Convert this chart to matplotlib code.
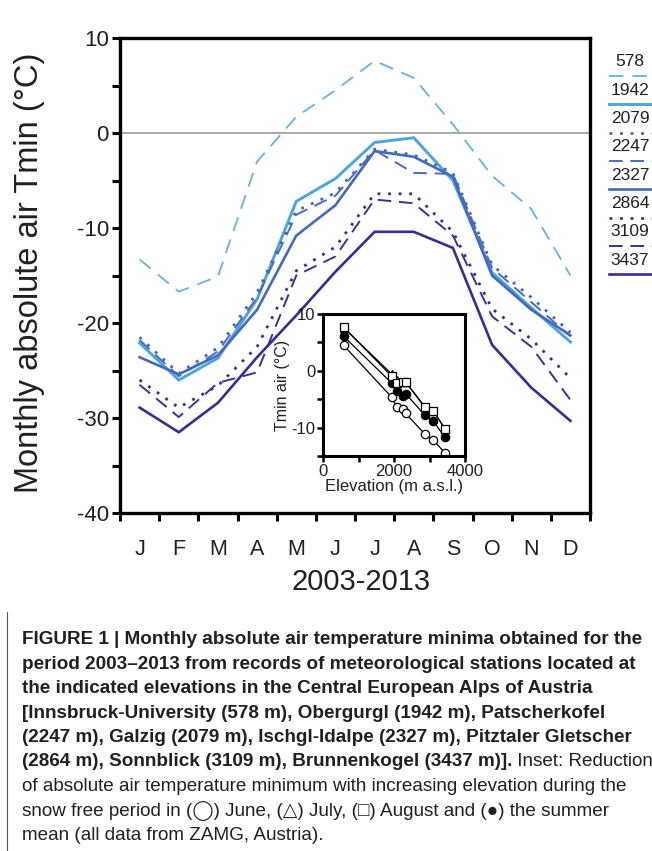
import matplotlib
matplotlib.use("Agg")
import matplotlib.pyplot as plt
from matplotlib.lines import Line2D
import numpy as np

plt.rcParams["font.family"] = ["Liberation Sans", "DejaVu Sans"]

# ---- data ----
MONTHS = ["J", "F", "M", "A", "M", "J", "J", "A", "S", "O", "N", "D"]
ELEV = [578, 1942, 2079, 2247, 2327, 2864, 3109, 3437]

t578 = [-13.3, -16.7, -15.1, -3.0, 1.7, 4.5, 7.6, 5.8, 0.9, -4.5, -8.0, -15.0]
t1942 = [-22.1, -26.0, -23.7, -17.5, -7.2, -4.8, -1.0, -0.5, -5.0, -14.7, -18.4, -22.0]
t2079 = [-21.5, -25.3, -22.6, -16.8, -8.2, -6.3, -1.7, -2.3, -4.2, -13.9, -17.3, -21.0]
t2247 = [-21.8, -25.6, -23.0, -17.3, -8.6, -6.6, -1.8, -4.2, -4.3, -14.2, -17.8, -21.4]
t2327 = [-23.6, -25.4, -23.4, -18.6, -10.8, -7.6, -1.9, -2.5, -4.6, -15.0, -18.6, -21.3]
t2864 = [-26.0, -28.9, -26.6, -22.5, -14.5, -12.0, -6.4, -6.4, -10.4, -18.5, -21.7, -25.8]
t3109 = [-26.5, -29.9, -26.3, -25.2, -15.0, -13.0, -7.0, -7.4, -10.8, -19.3, -22.5, -28.1]
t3437 = [-28.9, -31.5, -28.4, -23.6, -19.2, -14.6, -10.4, -10.4, -12.1, -22.3, -26.8, -30.3]

SERIES = [t578, t1942, t2079, t2247, t2327, t2864, t3109, t3437]

# inset values
in_june = [4.5, -4.7, -6.4, -6.8, -7.5, -11.1, -12.2, -14.5]
in_july = [7.6, -0.6, -1.7, -1.9, -1.9, -6.4, -7.0, -10.3]
in_aug = [7.7, -1.0, -2.2, -2.0, -2.0, -6.3, -7.1, -10.2]
in_mean = [6.1, -2.2, -3.5, -4.4, -4.0, -7.8, -8.9, -11.7]

# colour / line style per station
STYLES = [
    dict(color="#62b3e4", ls=(0, (8, 5)), lw=1.3),
    dict(color="#4aa6dd", ls="-", lw=2.1),
    dict(color="#3f68c0", ls=(0, (1, 2.8)), lw=2.0),
    dict(color="#4a6cc0", ls=(0, (7, 4)), lw=1.4),
    dict(color="#4569bd", ls="-", lw=1.9),
    dict(color="#3c2c98", ls=(0, (1, 2.8)), lw=2.0),
    dict(color="#3e2f98", ls=(0, (7, 4)), lw=1.4),
    dict(color="#3a2b93", ls="-", lw=1.9),
]

W, H = 652, 851
fig = plt.figure(figsize=(W / 100, H / 100), dpi=100)
TXT = "#231f20"


def fx(px):
    return px / W


def fy(py):
    return 1 - py / H


# ---- main axes ----
ax = fig.add_axes([fx(120), fy(513), fx(590) - fx(120), fy(38) - fy(513)])
x = np.arange(12) + 0.5
ax.axhline(0, color="#9a9a9a", lw=1.2, zorder=1)
for vals, st in zip(SERIES, STYLES):
    ax.plot(x, vals, color=st["color"], linestyle=st["ls"], lw=st["lw"],
            solid_joinstyle="miter", zorder=2)

ax.set_xlim(0, 12)
ax.set_ylim(-40, 10)
ax.set_xticks(np.arange(13))
ax.set_xticklabels([])
ax.set_xticks(x, minor=True)
ax.set_xticklabels(MONTHS, minor=True)
ax.set_yticks(np.arange(-40, 11, 10))
ax.set_yticklabels([str(v) for v in range(-40, 11, 10)])
ax.set_yticks(np.arange(-35, 10, 10), minor=True)
ax.tick_params(axis="both", which="major", direction="out", length=6,
               width=2.2, labelsize=16, colors="black", labelcolor=TXT)
ax.tick_params(axis="y", which="major", pad=2)
ax.tick_params(axis="y", which="minor", direction="out", length=6, width=2.2)
ax.tick_params(axis="x", which="minor", length=0, labelsize=15.5, pad=19,
               labelcolor=TXT)
for s in ax.spines.values():
    s.set_linewidth(2.4)

fig.text(fx(30), fy(273), "Monthly absolute air Tmin (°C)", rotation=90,
         ha="center", va="center", fontsize=23.5, color=TXT)
fig.text(fx(361), fy(582), "2003-2013", ha="center", va="center",
         fontsize=21, color=TXT)

# ---- legend on the right ----
for i, (lab, st) in enumerate(zip(ELEV, STYLES)):
    ty = 62 + 28.3 * i
    fig.text(fx(630), fy(ty), str(lab), ha="center", va="center",
             fontsize=12.5, color=TXT)
    fig.add_artist(Line2D([fx(609), fx(660)], [fy(ty + 14)] * 2,
                          transform=fig.transFigure, color=st["color"],
                          linestyle=st["ls"], lw=st["lw"]))

# ---- inset: Tmin vs elevation (Jun, Jul, Aug, summer mean) ----
axi = fig.add_axes([fx(323), fy(456), fx(465) - fx(323), fy(314) - fy(456)])
mk = dict(color="black", lw=0.9, markersize=6, markeredgewidth=0.9)
axi.plot(ELEV, in_june, marker="o", mfc="white", **mk)
axi.plot(ELEV, in_mean, marker="o", mfc="black", **mk)
axi.plot(ELEV, in_july, marker="^", mfc="white", **mk)
axi.plot(ELEV, in_aug, marker="s", mfc="white", **mk)
axi.set_xlim(0, 4000)
axi.set_ylim(-15, 10)
axi.set_xticks([0, 1000, 2000, 3000, 4000])
axi.set_xticklabels(["0", "", "2000", "", "4000"])
axi.set_yticks([-15, -10, -5, 0, 5, 10])
axi.set_yticklabels(["", "-10", "", "0", "", "10"])
axi.tick_params(direction="out", length=4, width=1.8, labelsize=12,
                pad=1.5, labelcolor=TXT)
for s in axi.spines.values():
    s.set_linewidth(2.2)
axi.set_xlabel("Elevation (m a.s.l.)", fontsize=12, labelpad=0, color=TXT)
axi.set_ylabel("Tmin air (°C)", fontsize=11.5, labelpad=1, color=TXT)

# ---- caption ----
CAPFAM = ["Liberation Sans", "DejaVu Sans"]

bold_lines = [
    "FIGURE 1 | Monthly absolute air temperature minima obtained for the",
    "period 2003\u20132013 from records of meteorological stations located at",
    "the indicated elevations in the Central European Alps of Austria",
    "[Innsbruck-University (578 m), Obergurgl (1942 m), Patscherkofel",
    "(2247 m), Galzig (2079 m), Ischgl-Idalpe (2327 m), Pitztaler Gletscher",
    "(2864 m), Sonnblick (3109 m), Brunnenkogel (3437 m)].",
]
regular_lines = [
    " Inset: Reduction",
    "of absolute air temperature minimum with increasing elevation during the",
    "snow free period in (\u25ef) June, (\u25b3) July, (\u25a1) August and (\u25cf) the summer",
    "mean (all data from ZAMG, Austria).",
]

renderer = fig.canvas.get_renderer()
probe = fig.text(0, 0, bold_lines[0], fontsize=12.5, fontweight="bold",
                 family=CAPFAM)
wpx = probe.get_window_extent(renderer).width
probe.remove()
capsize = 12.5 * 621 / wpx

x0 = fx(22)
lines_y = [640 + 24.4 * i for i in range(9)]
for i, s in enumerate(bold_lines):
    t = fig.text(x0, fy(lines_y[i]), s, fontsize=capsize, fontweight="bold",
                 family=CAPFAM, va="center", ha="left", color=TXT)
bb = t.get_window_extent(renderer)
fig.text(bb.x1 / W, fy(lines_y[5]), regular_lines[0], fontsize=capsize,
         family=CAPFAM, va="center", ha="left", color=TXT)
for j, s in enumerate(regular_lines[1:]):
    fig.text(x0, fy(lines_y[6 + j]), s, fontsize=capsize, family=CAPFAM,
             va="center", ha="left", color=TXT)

fig.add_artist(Line2D([fx(7), fx(7)], [fy(612), 0], transform=fig.transFigure,
                      color="#555555", lw=0.8))

fig.savefig("out.png", dpi=100)
